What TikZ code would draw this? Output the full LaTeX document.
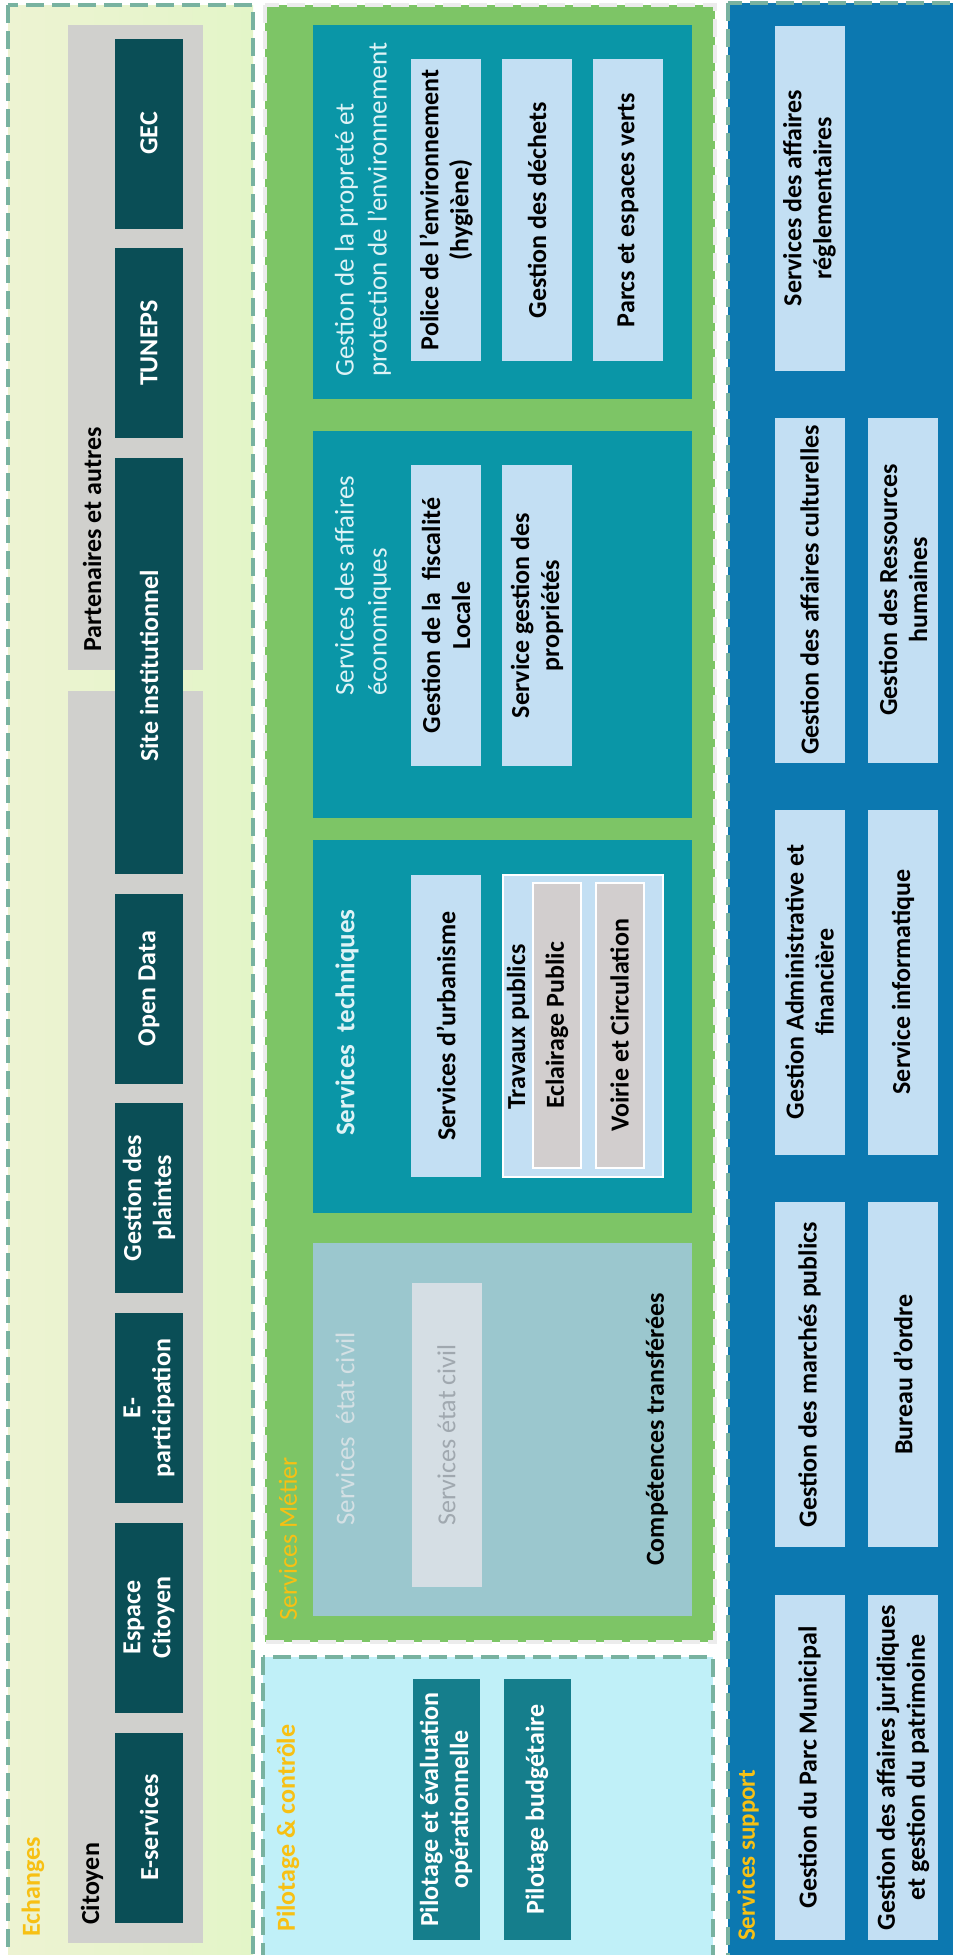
\documentclass[tikz,border=0pt]{standalone}
\usepackage{fontspec}
\setmainfont{Carlito}

\definecolor{echbgl}{RGB}{237,243,210}
\definecolor{echbgr}{RGB}{227,245,200}
\definecolor{echborder}{RGB}{120,178,160}
\definecolor{greybox}{RGB}{208,208,205}
\definecolor{echdark}{RGB}{10,78,86}
\definecolor{metgreen}{RGB}{125,197,102}
\definecolor{metteal}{RGB}{10,150,167}
\definecolor{lightblue}{RGB}{195,223,243}
\definecolor{greyinner}{RGB}{210,206,206}
\definecolor{compbg}{RGB}{155,199,206}
\definecolor{civilbox}{RGB}{213,222,228}
\definecolor{civiltext}{RGB}{160,168,175}
\definecolor{civiltitle}{RGB}{212,224,228}
\definecolor{titletext}{RGB}{222,243,246}
\definecolor{pilbg}{RGB}{192,240,248}
\definecolor{piltteal}{RGB}{21,126,140}
\definecolor{supblue}{RGB}{12,120,176}
\definecolor{headgold}{RGB}{247,192,20}

\begin{document}
\begin{tikzpicture}[x=1pt, y=-1pt,
	every node/.style={rotate=90, inner sep=0pt, align=center, font=\bfseries\fontsize{26}{30}\selectfont},
	dashframe/.style={dash pattern=on 18pt off 8pt, line width=3.5pt},
	echbox/.style={fill=echdark, text=white, minimum height=68pt},
	lightbox/.style={fill=lightblue, text=black, minimum height=70pt},
	greyin/.style={fill=greyinner, draw=white, line width=2pt, minimum height=48pt, minimum width=285pt},
	piltbox/.style={fill=piltteal, text=white, minimum height=67pt, minimum width=261pt},
	boxtitle/.style={anchor=west, align=left, text=titletext, font=\fontsize{27}{33}\selectfont},
	headlabel/.style={anchor=west, text=headgold},
]
	\useasboundingbox (0,0) rectangle (953,1955);

	% Echanges
	\shade[left color=echbgl, right color=echbgr] (8,5) rectangle (253,1962);
	\draw[echborder, dashframe] (8,5) rectangle (253,1962);
	\fill[greybox] (68,691) rectangle (203,1943);
	\fill[greybox] (68,25) rectangle (203,670);
	\node[headlabel] (echanges) at (33,1937) {Echanges};
	\node[anchor=west] (citoyen) at (92,1925) {Citoyen};
	\node[anchor=west] (partenaires) at (92,652) {Partenaires et autres};
	\foreach \nm/\yc/\txt in {eserv/1827.5/E-services, espace/1617.5/{Espace\\Citoyen}, epart/1408/{E-\\participation}, plaintes/1198/{Gestion des\\plaintes}, opendata/988.5/Open Data, tuneps/343/TUNEPS, gec/133.5/GEC}
		\node[echbox, minimum width=190pt] (\nm) at (149,\yc) {\txt};
	\node[echbox, minimum width=416pt] (site) at (149,666) {Site institutionnel};

	% Services Metier
	\fill[metgreen] (265,5) rectangle (715,1642);
	\draw[white!85!gray, dashframe] (265,5) rectangle (715,1642);
	\fill[metteal] (313,25) rectangle (692,399);
	\fill[metteal] (313,431) rectangle (692,818);
	\fill[metteal] (313,840) rectangle (692,1213);
	\fill[compbg] (313,1243) rectangle (692,1616);
	\node[headlabel, font=\fontsize{26}{30}\selectfont] (metier) at (288,1621) {Services Métier};

	\node[boxtitle] (propretetitle) at (363,377) {Gestion de la propreté et\\protection de l'environnement};
	\node[lightbox, minimum width=302pt] (police) at (446,210) {Police de l'environnement\\(hygiène)};
	\node[lightbox, minimum width=302pt] (dechets) at (537,210) {Gestion des déchets};
	\node[lightbox, minimum width=302pt] (parcs) at (628,210) {Parcs et espaces verts};

	\node[boxtitle] (ecotitle) at (363,696) {Services des affaires\\économiques};
	\node[lightbox, minimum width=301pt] (fiscalite) at (446,615.5) {Gestion de la\ \ fiscalité\\Locale};
	\node[lightbox, minimum width=301pt] (proprietes) at (537,615.5) {Service gestion des\\propriétés};

	\node[boxtitle, font=\bfseries\fontsize{27}{33}\selectfont] (techtitle) at (347,1136) {Services\ \ techniques};
	\node[lightbox, minimum width=302pt] (urbanisme) at (446,1026) {Services d’urbanisme};
	\node[lightbox, draw=white, line width=2pt, minimum height=160pt, minimum width=302pt] (travaux) at (583,1026) {};
	\node (travauxtxt) at (518,1027) {Travaux publics};
	\node[greyin] (eclairage) at (557,1025.5) {Eclairage Public};
	\node[greyin] (voirie) at (619.5,1025.5) {Voirie et Circulation};

	\node[boxtitle, text=civiltitle] (civiltitle) at (345,1526) {Services\ \ état civil};
	\node[lightbox, fill=civilbox, text=civiltext, font=\fontsize{26}{30}\selectfont, minimum width=304pt] (civil) at (446.5,1435) {Services état civil};
	\node[anchor=west] (competences) at (657,1566) {Compétences transférées};

	% Pilotage
	\fill[pilbg] (263,1657) rectangle (713,1962);
	\draw[echborder, dashframe] (263,1657) rectangle (713,1962);
	\node[headlabel] (pilotage) at (288,1932) {Pilotage \& contrôle};
	\node[piltbox] (pileval) at (446,1809.5) {Pilotage et évaluation\\opérationnelle};
	\node[piltbox] (pilbudget) at (537,1809.5) {Pilotage budgétaire};

	% Services support
	\fill[supblue] (728,3) rectangle (960,1962);
	\draw[echborder, dashframe] (728,3) rectangle (960,1962);
	\node[headlabel, font=\bfseries\fontsize{25}{30}\selectfont] (support) at (748,1941) {Services support};
	\foreach \nm/\yc/\txt in {reglem/198/{Services des affaires\\réglementaires}, culture/590/Gestion des affaires culturelles, admin/982/{Gestion Administrative et\\financière}, marches/1374.5/Gestion des marchés publics, parc/1767.5/Gestion du Parc Municipal}
		\node[lightbox, minimum width=345pt] (\nm) at (809.5,\yc) {\txt};
	\foreach \nm/\yc/\txt in {rh/590/{Gestion des Ressources\\humaines}, info/982/Service informatique, ordre/1374.5/Bureau d’ordre, juridique/1767.5/{Gestion des affaires juridiques\\et gestion du patrimoine}}
		\node[lightbox, minimum width=345pt] (\nm) at (903,\yc) {\txt};

\end{tikzpicture}
\end{document}
